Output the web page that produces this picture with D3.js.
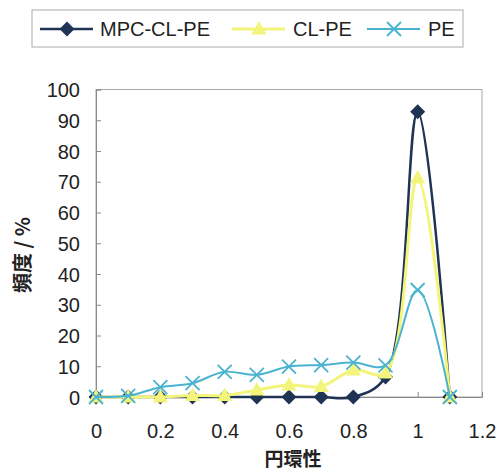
<!DOCTYPE html>
<html><head><meta charset="utf-8">
<script src="https://cdn.jsdelivr.net/npm/d3@7"></script>
<style>html,body{margin:0;padding:0;background:#fff;}svg{display:block;}</style>
</head><body>
<svg id="c" width="499" height="474"></svg>
<script>
const xValues = [0, 0.1, 0.2, 0.3, 0.4, 0.5, 0.6, 0.7, 0.8, 0.9, 1.0, 1.1];
const seriesNames = ["MPC-CL-PE", "CL-PE", "PE"];
const mpcClPe = [0, 0, 0, 0, 0, 0, 0, 0, 0, 6.5, 92.8, 0];
const clPe    = [0, 0, 0, 0.5, 0.5, 2.3, 3.9, 3.4, 8.8, 7.8, 71.2, 0];
const pe      = [0, 0.4, 3.2, 4.5, 8.2, 7.2, 9.9, 10.4, 11.2, 10.3, 34.8, 0];
const xTicks = [0, 0.2, 0.4, 0.6, 0.8, 1, 1.2];
const yTicks = [0, 10, 20, 30, 40, 50, 60, 70, 80, 90, 100];
const xTitle = "円環性";
const yTitle = "頻度 / %";

const colors = ["#1f3354", "#f3f57a", "#4ab3cf"];
const svg = d3.select("#c");
const L = 96, R = 482, T = 89.5, B = 397;
const x = d3.scaleLinear().domain([0, 1.2]).range([L, R]);
const y = d3.scaleLinear().domain([0, 100]).range([B, T]);
const font = "'Liberation Sans', Arial, sans-serif";
const cjk = "'Noto Sans CJK JP', sans-serif";

// plot frame
svg.append("rect").attr("x", L).attr("y", T).attr("width", R - L).attr("height", B - T)
  .attr("fill", "none").attr("stroke", "#a8a8a8").attr("stroke-width", 1);

// y axis
const yAxis = d3.axisLeft(y).tickValues(yTicks).tickSize(-5).tickPadding(16).tickFormat(d3.format("d"));
const gy = svg.append("g").attr("transform", `translate(${L},0)`).call(yAxis);
gy.select(".domain").attr("stroke", "#8a8a8a");
gy.selectAll(".tick line").attr("stroke", "#8a8a8a");
gy.selectAll(".tick text").attr("font-family", font).attr("font-size", 20).attr("fill", "#222").attr("dy", "0.36em");

// x axis
const xAxis = d3.axisBottom(x).tickValues(xTicks).tickSize(-5).tickPadding(27).tickFormat(d => String(d));
const gx = svg.append("g").attr("transform", `translate(0,${B})`).call(xAxis);
gx.select(".domain").attr("stroke", "#8a8a8a");
gx.selectAll(".tick line").attr("stroke", "#8a8a8a");
gx.selectAll(".tick text").attr("font-family", font).attr("font-size", 20).attr("fill", "#222");

// titles
svg.append("text").attr("x", 293).attr("y", 466).attr("text-anchor", "middle")
  .attr("font-family", cjk).attr("font-weight", "bold").attr("font-size", 19).attr("fill", "#222").text(xTitle);
svg.append("text").attr("transform", "translate(30,255) rotate(-90)").attr("text-anchor", "middle")
  .attr("font-family", cjk).attr("font-weight", "bold").attr("font-size", 20).attr("fill", "#222").text(yTitle);

const allSeries = [mpcClPe, clPe, pe];
const line = d3.line().x((d, i) => x(xValues[i])).y(d => y(d)).curve(d3.curveCatmullRom.alpha(0.5));
const widths = [2.5, 3, 2];

function marker(g, k, cx, cy) {
  if (k === 0) {
    g.append("path").attr("d", `M${cx},${cy-7.5}L${cx+7.5},${cy}L${cx},${cy+7.5}L${cx-7.5},${cy}Z`).attr("fill", colors[0]);
  } else if (k === 1) {
    g.append("path").attr("d", `M${cx},${cy-8}L${cx+7.5},${cy+5.5}L${cx-7.5},${cy+5.5}Z`).attr("fill", colors[1]);
  } else {
    g.append("path").attr("d", `M${cx-7},${cy-7}L${cx+7},${cy+7}M${cx+7},${cy-7}L${cx-7},${cy+7}`)
      .attr("stroke", colors[2]).attr("stroke-width", 1.8).attr("fill", "none");
  }
}

allSeries.forEach((vals, k) => {
  const g = svg.append("g");
  g.append("path").datum(vals).attr("d", line).attr("fill", "none")
    .attr("stroke", colors[k]).attr("stroke-width", widths[k]);
  vals.forEach((v, i) => marker(g, k, x(xValues[i]), y(v)));
});

// legend
svg.append("rect").attr("x", 32).attr("y", 10).attr("width", 431).attr("height", 37)
  .attr("fill", "#fff").attr("stroke", "#aaa").attr("stroke-width", 1);
const legX = [40, 232, 367];
const legTextX = [100, 293, 428];
seriesNames.forEach((name, k) => {
  const g = svg.append("g");
  const cy = 29;
  g.append("line").attr("x1", legX[k]).attr("x2", legX[k] + 53).attr("y1", cy).attr("y2", cy)
    .attr("stroke", colors[k]).attr("stroke-width", widths[k]);
  marker(g, k, legX[k] + 27, cy);
  g.append("text").attr("x", legTextX[k]).attr("y", cy).attr("dy", "0.36em")
    .attr("font-family", font).attr("font-size", 20).attr("fill", "#222").text(name);
});
</script>
</body></html>
